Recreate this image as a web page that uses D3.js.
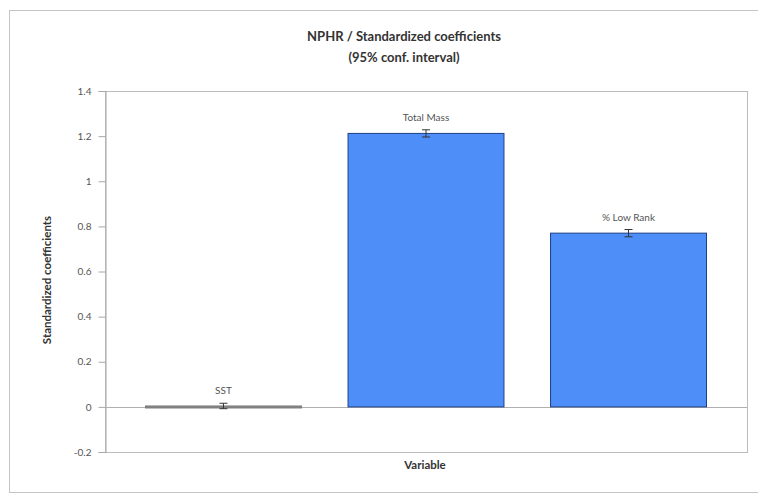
<!DOCTYPE html>
<html>
<head>
<meta charset="utf-8">
<script src="https://cdn.jsdelivr.net/npm/d3@7"></script>
<style>
  body { margin: 0; background: #fff; }
  text { font-family: Lato, "Open Sans", sans-serif; }
</style>
</head>
<body>
<div id="my_chart"></div>
<script>
// data
var variables = ["SST", "Total Mass", "% Low Rank"];
var coefficients = [0.004, 1.212, 0.770];
var ciHalf = [0.012, 0.016, 0.016];
var yTicks = [-0.2, 0, 0.2, 0.4, 0.6, 0.8, 1, 1.2, 1.4];

var W = 758, H = 495;
var margin = {top: 91, right: 11, bottom: 43, left: 105},
  width = W - margin.left - margin.right,
  height = H - margin.top - margin.bottom;

var svg = d3.select("#my_chart")
  .append("svg")
  .attr("width", W)
  .attr("height", H);

// outer chart frame
svg.append("rect")
  .attr("x", 9.5).attr("y", 10.5)
  .attr("width", 760).attr("height", 482)
  .attr("fill", "#fff")
  .attr("stroke", "#c4c4c4");

var g = svg.append("g")
  .attr("transform", "translate(" + margin.left + "," + margin.top + ")");

var x = d3.scaleBand()
  .domain(variables)
  .range([0, width])
  .paddingInner(0.23)
  .paddingOuter(0.2);

var y = d3.scaleLinear()
  .domain([-0.2, 1.4])
  .range([height, 0]);

// plot area border
g.append("rect")
  .attr("x", 0.5).attr("y", 0.5)
  .attr("width", width).attr("height", height)
  .attr("fill", "none")
  .attr("stroke", "#bdbdbd");

// y axis
var yAxis = g.append("g")
  .attr("transform", "translate(0.5,0)")
  .call(d3.axisLeft(y).tickValues(yTicks).tickSize(7).tickPadding(7)
    .tickFormat(function(d) { return String(+d.toFixed(1)); }));
yAxis.select(".domain").attr("stroke", "#a8a8a8");
yAxis.selectAll(".tick line").attr("stroke", "#a8a8a8");
yAxis.selectAll("text")
  .attr("fill", "#555")
  .style("font-size", "10px");

// zero line
g.append("line")
  .attr("x1", 0).attr("x2", width)
  .attr("y1", Math.round(y(0)) + 0.5).attr("y2", Math.round(y(0)) + 0.5)
  .attr("stroke", "#b0b0b0");

var data = variables.map(function(v, i) {
  return {name: v, value: coefficients[i], ci: ciHalf[i]};
});

// bars
g.selectAll(".bar")
  .data(data)
  .enter()
  .append("rect")
  .attr("class", "bar")
  .attr("x", function(d) { return x(d.name); })
  .attr("y", function(d) { return y(Math.max(0, d.value)); })
  .attr("width", x.bandwidth())
  .attr("height", function(d) { return Math.max(2, Math.abs(y(d.value) - y(0))); })
  .attr("fill", function(d) { return d.value < 0.05 ? "#8a8a8a" : "#4d8ef8"; })
  .attr("stroke", function(d) { return d.value < 0.05 ? "#7a7a7a" : "#1f3f86"; })
  .attr("stroke-width", 1);

// error bars
var err = g.selectAll(".err")
  .data(data)
  .enter()
  .append("g")
  .attr("class", "err")
  .attr("stroke", "#333")
  .attr("stroke-width", 1);
err.append("line")
  .attr("x1", function(d) { return x(d.name) + x.bandwidth() / 2; })
  .attr("x2", function(d) { return x(d.name) + x.bandwidth() / 2; })
  .attr("y1", function(d) { return y(d.value - d.ci); })
  .attr("y2", function(d) { return y(d.value + d.ci); });
err.selectAll(".cap")
  .data(function(d) { return [d.value - d.ci, d.value + d.ci].map(function(v) { return {name: d.name, v: v}; }); })
  .enter()
  .append("line")
  .attr("x1", function(d) { return x(d.name) + x.bandwidth() / 2 - 4; })
  .attr("x2", function(d) { return x(d.name) + x.bandwidth() / 2 + 4; })
  .attr("y1", function(d) { return y(d.v); })
  .attr("y2", function(d) { return y(d.v); });

// bar labels
g.selectAll(".lbl")
  .data(data)
  .enter()
  .append("text")
  .attr("x", function(d) { return x(d.name) + x.bandwidth() / 2; })
  .attr("y", function(d) { return y(d.value + d.ci) - 9; })
  .attr("text-anchor", "middle")
  .attr("fill", "#555")
  .style("font-size", "10px")
  .text(function(d) { return d.name; });

// titles
var title = svg.append("text")
  .attr("x", 404)
  .attr("text-anchor", "middle")
  .attr("fill", "#333")
  .style("font-size", "13px")
  .style("font-weight", "bold");
title.append("tspan").attr("x", 404).attr("y", 41).text("NPHR / Standardized coefficients");
title.append("tspan").attr("x", 404).attr("y", 62).text("(95% conf. interval)");

svg.append("text")
  .attr("transform", "translate(51,280)rotate(-90)")
  .attr("text-anchor", "middle")
  .attr("fill", "#333")
  .style("font-size", "11.5px")
  .style("font-weight", "bold")
  .text("Standardized coefficients");

svg.append("text")
  .attr("x", 425)
  .attr("y", 469)
  .attr("text-anchor", "middle")
  .attr("fill", "#333")
  .style("font-size", "11.5px")
  .style("font-weight", "bold")
  .text("Variable");
</script>
</body>
</html>
